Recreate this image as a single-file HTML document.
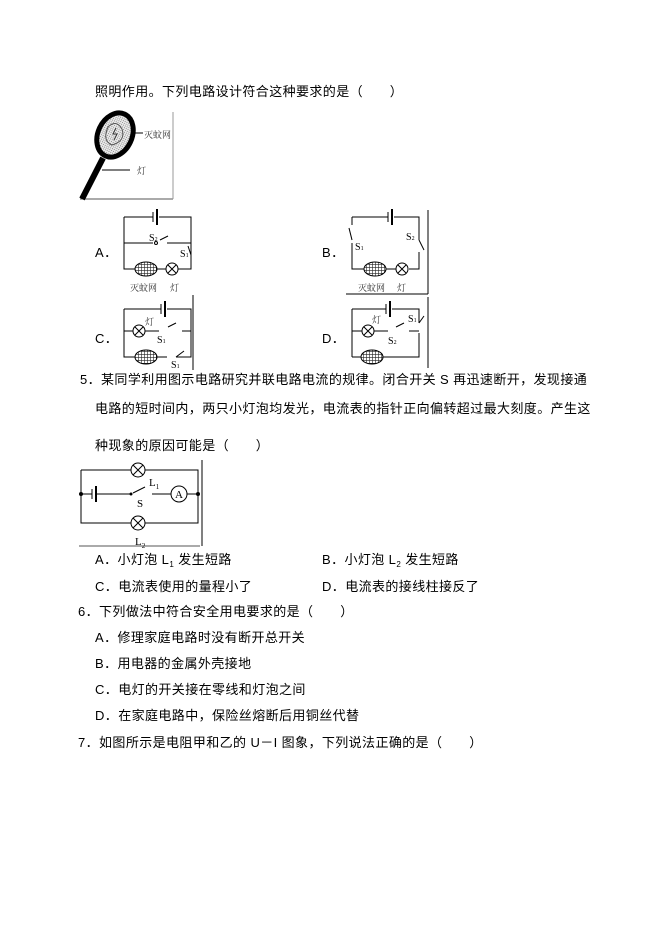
<!DOCTYPE html>
<html><head><meta charset="utf-8"><style>
body{margin:0;background:#fff;width:661px;height:935px;position:relative;overflow:hidden;font-family:"Liberation Sans","Noto Sans CJK SC",sans-serif;font-size:13px;color:#000}
.t{position:absolute;white-space:pre;line-height:16px;letter-spacing:0.4px}
sub{font-size:8px;vertical-align:-3px;line-height:0}
svg{position:absolute;left:0;top:0}
</style></head><body>
<div class="t" style="left:95px;top:84px">照明作用。下列电路设计符合这种要求的是（　　）</div>
<div class="t" style="left:95px;top:245px">A．</div>
<div class="t" style="left:322px;top:245px">B．</div>
<div class="t" style="left:95px;top:331px">C．</div>
<div class="t" style="left:322px;top:331px">D．</div>
<div class="t" style="left:80px;top:372px">5．某同学利用图示电路研究并联电路电流的规律。闭合开关 S 再迅速断开，发现接通</div>
<div class="t" style="left:95px;top:401px">电路的短时间内，两只小灯泡均发光，电流表的指针正向偏转超过最大刻度。产生这</div>
<div class="t" style="left:95px;top:438px">种现象的原因可能是（　　）</div>
<div class="t" style="left:95px;top:552px">A．小灯泡 L<sub>1</sub> 发生短路</div>
<div class="t" style="left:322px;top:552px">B．小灯泡 L<sub>2</sub> 发生短路</div>
<div class="t" style="left:95px;top:579px">C．电流表使用的量程小了</div>
<div class="t" style="left:322px;top:579px">D．电流表的接线柱接反了</div>
<div class="t" style="left:78px;top:604px">6．下列做法中符合安全用电要求的是（　　）</div>
<div class="t" style="left:95px;top:630px">A．修理家庭电路时没有断开总开关</div>
<div class="t" style="left:95px;top:656px">B．用电器的金属外壳接地</div>
<div class="t" style="left:95px;top:682px">C．电灯的开关接在零线和灯泡之间</div>
<div class="t" style="left:95px;top:708px">D．在家庭电路中，保险丝熔断后用铜丝代替</div>
<div class="t" style="left:78px;top:735px">7．如图所示是电阻甲和乙的 U－I 图象，下列说法正确的是（　　）</div>

<svg width="661" height="935" viewBox="0 0 661 935" font-family="Liberation Serif,Noto Serif CJK SC,serif">
<defs>
<pattern id="g" width="3" height="3" patternUnits="userSpaceOnUse"><rect width="3" height="3" fill="#fff"/><path d="M0 0H3M0 0V3" stroke="#222" stroke-width="1.2"/></pattern>
<pattern id="m" width="2" height="2" patternUnits="userSpaceOnUse"><rect width="2" height="2" fill="#eee"/><rect width="1" height="1" fill="#888"/></pattern>
</defs>
<g stroke="#000" fill="none" stroke-width="1">
<line x1="80" y1="199" x2="173" y2="199" stroke="#555"/>
<line x1="173" y1="112" x2="173" y2="199" stroke="#999"/>
<path d="M82 199 L103 158" stroke-width="6"/>
<ellipse cx="115" cy="135" rx="17" ry="23" transform="rotate(25 115 135)" stroke-width="5" fill="url(#m)"/>
<path d="M108 127 q8 -8 14 2 q4 12 -10 16 q-10 -4 -4 -18" stroke="#555"/>
<path d="M116 128 l-3 6 4 0 -3 6" stroke="#333"/>
<line x1="133" y1="133" x2="143" y2="133"/>
<line x1="102" y1="170" x2="130" y2="170"/>
<path d="M124 217H153M159 217H191V269H175M168 269H157M136 269H124V217"/>
<line x1="153" y1="212" x2="153" y2="222"/><line x1="157" y1="209" x2="157" y2="225" stroke-width="2"/>
<path d="M124 243H153M160 240L168 236M167 243H191"/>
<circle cx="156" cy="243" r="1.5"/>
<line x1="191" y1="255" x2="188" y2="246"/>
<line x1="191" y1="260" x2="191" y2="269"/>
<ellipse cx="146" cy="269" rx="11" ry="7" fill="url(#g)"/>
<circle cx="172" cy="269" r="6" fill="#fff"/><path d="M168 265L176 273M176 265L168 273"/>
<path d="M352 217H388M394 217H419V240M419 252V269H409M396 269H386M364 269H352V243"/>
<line x1="388" y1="212" x2="388" y2="222"/><line x1="392" y1="209" x2="392" y2="225" stroke-width="2"/>
<line x1="352" y1="217" x2="352" y2="225"/><line x1="349" y1="228" x2="352" y2="240"/>
<line x1="419" y1="240" x2="424" y2="250"/>
<ellipse cx="375" cy="269" rx="11" ry="7" fill="url(#g)"/>
<circle cx="402" cy="269" r="6" fill="#fff"/><path d="M398 265L406 273M406 265L398 273"/>
<line x1="346" y1="294" x2="428" y2="294"/><line x1="428" y1="210" x2="428" y2="294"/>
<path d="M124 309H161M167 309H191V357H176M167 357H157M135 357H124V309"/>
<line x1="161" y1="304" x2="161" y2="314"/><line x1="165" y1="301" x2="165" y2="317" stroke-width="2"/>
<path d="M124 331H133M145 331H159M168 327L176 323M182 331H191"/>
<circle cx="139" cy="331" r="6" fill="#fff"/><path d="M135 327L143 335M143 327L135 335"/>
<line x1="176" y1="357" x2="184" y2="351"/>
<ellipse cx="146" cy="357" rx="11" ry="7" fill="url(#g)"/>
<line x1="193" y1="295" x2="193" y2="370"/>
<path d="M352 309H386M392 309H419V323M419 333V357H375M352 357H364M352 357V309"/>
<line x1="386" y1="304" x2="386" y2="314"/><line x1="390" y1="301" x2="390" y2="317" stroke-width="2"/>
<line x1="419" y1="323" x2="424" y2="316"/>
<path d="M352 331H362M374 331H388M396 327L404 323M409 331H419"/>
<circle cx="368" cy="331" r="6" fill="#fff"/><path d="M364 327L372 335M372 327L364 335"/>
<ellipse cx="372" cy="357" rx="11" ry="7" fill="url(#g)"/>
<line x1="428" y1="297" x2="428" y2="368"/>
<path d="M81 470H131M145 470H198V523H145M131 523H81V470"/>
<circle cx="138" cy="470" r="7" fill="#fff"/><path d="M133 465L143 475M143 465L133 475"/>
<circle cx="138" cy="523" r="7" fill="#fff"/><path d="M133 518L143 528M143 518L133 528"/>
<path d="M81 494H92M97 494H130M133 493L145 487M152 494H171M187 494H198"/>
<line x1="92" y1="489" x2="92" y2="499"/><line x1="96" y1="486" x2="96" y2="502" stroke-width="2"/>
<circle cx="179" cy="494" r="8" fill="#fff"/>
<line x1="79" y1="546" x2="200" y2="546" stroke="#555"/><line x1="202" y1="460" x2="202" y2="546"/>
</g>
<g fill="#000">
<circle cx="81" cy="494" r="2"/><circle cx="198" cy="494" r="2"/><circle cx="131" cy="494" r="1.5"/>
</g>
<g font-size="9" fill="#333">
<text x="144" y="138">灭蚊网</text><text x="137" y="174">灯</text>
<text x="130" y="291">灭蚊网</text><text x="170" y="291">灯</text>
<text x="358" y="291">灭蚊网</text><text x="397" y="291">灯</text>
<text x="145" y="325">灯</text><text x="372" y="323">灯</text>
</g>
<g font-size="10" fill="#000">
<text x="149" y="241">S<tspan font-size="6">2</tspan></text>
<text x="180" y="257">S<tspan font-size="6">1</tspan></text>
<text x="355" y="250">S<tspan font-size="6">1</tspan></text>
<text x="406" y="240">S<tspan font-size="6">2</tspan></text>
<text x="157" y="343">S<tspan font-size="6">1</tspan></text>
<text x="171" y="368">S<tspan font-size="6">1</tspan></text>
<text x="388" y="344">S<tspan font-size="6">2</tspan></text>
<text x="408" y="322">S<tspan font-size="6">1</tspan></text>
<text x="137" y="507" font-size="11">S</text>
<text x="149" y="486" font-size="11">L<tspan font-size="7" dy="3">1</tspan></text>
<text x="135" y="545" font-size="11">L<tspan font-size="7" dy="3">2</tspan></text>
<text x="175" y="498" font-size="11">A</text>
</g>
</svg>
</body></html>
